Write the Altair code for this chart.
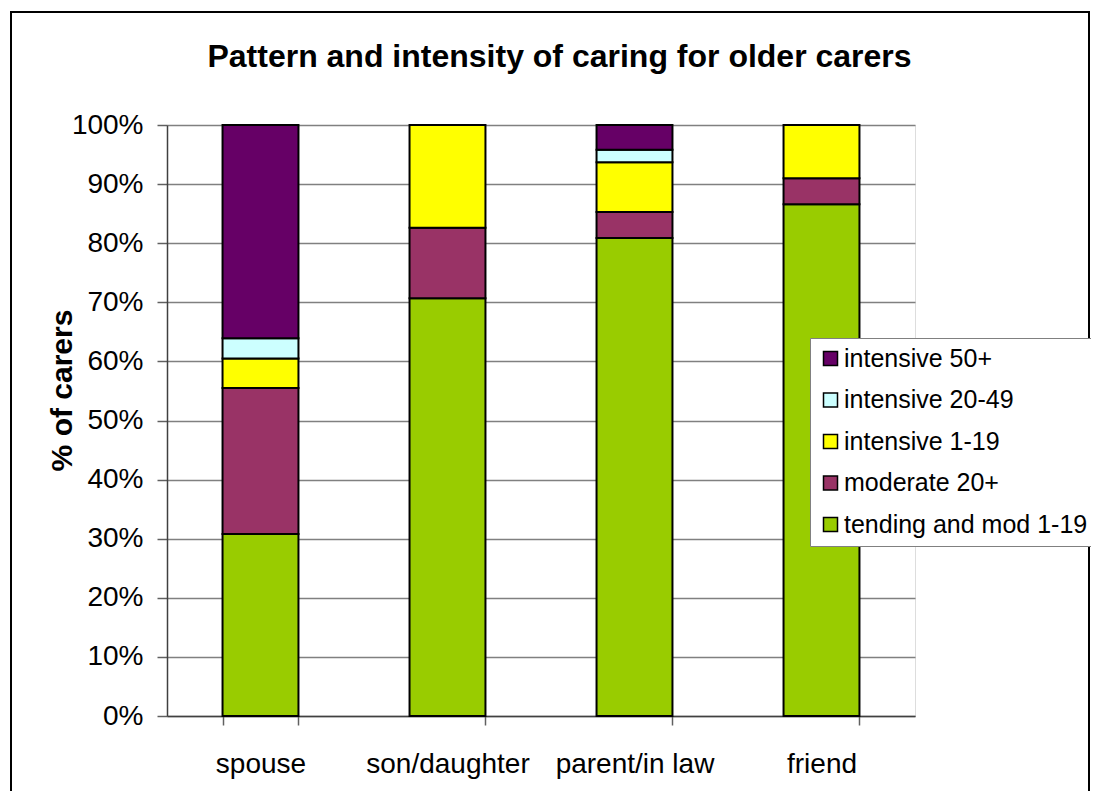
import altair as alt
import pandas as pd

categories = ["spouse", "son/daughter", "parent/in law", "friend"]
series = ["tending and mod 1-19", "moderate 20+", "intensive 1-19", "intensive 20-49", "intensive 50+"]
tending = [30.8, 70.7, 80.9, 86.6]
moderate = [24.7, 11.9, 4.4, 4.4]
intensive_1_19 = [5.0, 17.4, 8.4, 9.0]
intensive_20_49 = [3.4, 0.0, 2.1, 0.0]
intensive_50 = [36.1, 0.0, 4.2, 0.0]
colors = ["#99CC00", "#993366", "#FFFF00", "#CCFFFF", "#660066"]
y_ticks = [0.0, 0.1, 0.2, 0.3, 0.4, 0.5, 0.6, 0.7, 0.8, 0.9, 1.0]

rows = []
for si, (name, vals) in enumerate(zip(series, [tending, moderate, intensive_1_19, intensive_20_49, intensive_50])):
    for c, v in zip(categories, vals):
        if v > 0:
            rows.append({"carer": c, "pattern": name, "share": v, "order": si})
df = pd.DataFrame(rows)

legend_order = list(reversed(series))
legend_colors = list(reversed(colors))

FONT = "Liberation Sans"

bars = alt.Chart(df).mark_bar(stroke="black", strokeWidth=2).encode(
    x=alt.X(
        "carer:N",
        sort=categories,
        scale=alt.Scale(paddingInner=0.594, paddingOuter=0.297),
        axis=alt.Axis(
            title=None, labelAngle=0, labelFontSize=28, labelFont=FONT, labelColor="black",
            labelBaseline="alphabetic", labelPadding=47, tickSize=9, tickBand="extent",
            tickColor="#606060", tickWidth=1.5, domainColor="#404040", domainWidth=1.5,
            grid=False, labelOverlap=False,
        ),
    ),
    y=alt.Y(
        "share:Q",
        stack="normalize",
        scale=alt.Scale(domain=[0, 1], nice=False),
        axis=alt.Axis(
            values=y_ticks, format=".0%", title="% of carers",
            labelFontSize=28, labelFont=FONT, labelColor="black", labelPadding=14,
            tickSize=10, tickColor="#606060", tickWidth=1.5,
            domainColor="#404040", domainWidth=1.5,
            grid=True, gridColor="#808080", gridWidth=1.5,
            titleFont=FONT, titleFontSize=30, titleFontWeight="bold", titleColor="black",
            titleX=-105, titleY=265, titleAngle=270, titleAlign="center", titleBaseline="middle",
        ),
    ),
    color=alt.Color(
        "pattern:N",
        scale=alt.Scale(domain=legend_order, range=legend_colors),
        legend=alt.Legend(
            title=None, orient="none", legendX=643, legendY=213, padding=8,
            fillColor="white", strokeColor="#808080",
            symbolType="square", symbolSize=196, symbolStrokeColor="black", symbolStrokeWidth=1.5,
            labelFont=FONT, labelFontSize=25, labelColor="black", labelOffset=1,
            rowPadding=15.5, labelLimit=600,
        ),
    ),
    order=alt.Order("order:Q", sort="ascending"),
)

border = alt.Chart(alt.Data(values=[{}])).mark_rect(
    fillOpacity=0, stroke="black", strokeWidth=2, clip=False
).encode(
    x=alt.value(-156), x2=alt.value(922), y=alt.value(-113), y2=alt.value(700)
)

chart = alt.layer(border, bars).properties(
    width=748,
    height=591,
    title=alt.TitleParams(
        "Pattern and intensity of caring for older carers",
        fontSize=32, fontWeight="bold", font=FONT, color="black",
        anchor="middle", frame="group", baseline="alphabetic", offset=0, dy=88, dx=18.5,
    ),
    autosize=alt.AutoSizeParams(type="none"),
    padding={"left": 159, "top": 117, "right": 176, "bottom": 75},
).configure_view(
    fill="#FFFFCC", stroke="#808080", strokeWidth=2
).configure(background="white")

chart.save("out.html", embed_options={"renderer": "svg", "actions": False})
